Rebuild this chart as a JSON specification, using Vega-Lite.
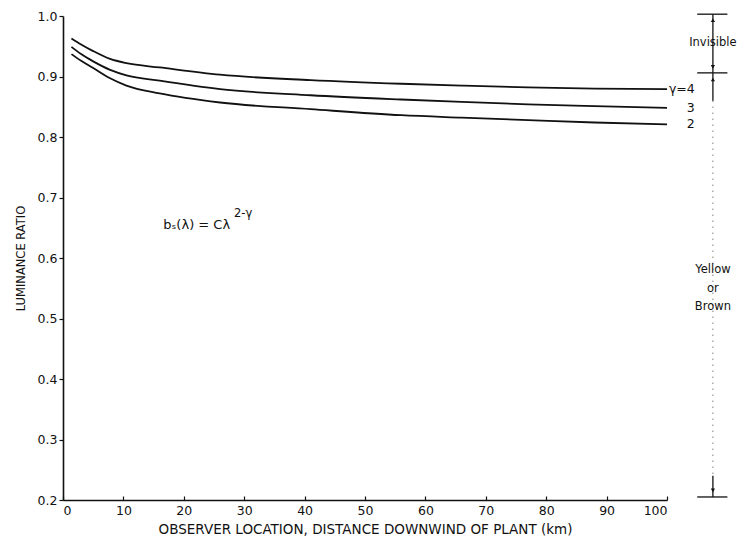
{
  "$schema": "https://vega.github.io/schema/vega-lite/v6.json",
  "width": 604,
  "height": 484,
  "autosize": "none",
  "padding": {"left": 63, "top": 16, "right": 73, "bottom": 40},
  "background": "white",
  "config": {
    "view": {"stroke": null},
    "axis": {
      "grid": false,
      "domainColor": "#111",
      "domainWidth": 1.6,
      "tickColor": "#111",
      "tickWidth": 1.2,
      "labelColor": "#111",
      "labelFont": "DejaVu Sans",
      "labelFontSize": 12.5,
      "titleFont": "DejaVu Sans",
      "titleFontSize": 11.5,
      "titleFontWeight": "normal",
      "titleColor": "#111"
    },
    "text": {"font": "DejaVu Sans", "color": "#111"}
  },
  "datasets": {
    "curves": [
      {"x": 1.4, "y": 0.963, "g": 4}, {"x": 3, "y": 0.953, "g": 4}, {"x": 5, "y": 0.942, "g": 4}, {"x": 7.8, "y": 0.929, "g": 4}, {"x": 10.5, "y": 0.922, "g": 4}, {"x": 16, "y": 0.915, "g": 4}, {"x": 26, "y": 0.903, "g": 4}, {"x": 41, "y": 0.894, "g": 4}, {"x": 56, "y": 0.888, "g": 4}, {"x": 66, "y": 0.885, "g": 4}, {"x": 77, "y": 0.882, "g": 4}, {"x": 88, "y": 0.880, "g": 4}, {"x": 100, "y": 0.879, "g": 4},
      {"x": 1.4, "y": 0.949, "g": 3}, {"x": 3, "y": 0.937, "g": 3}, {"x": 5, "y": 0.925, "g": 3}, {"x": 7.8, "y": 0.911, "g": 3}, {"x": 10.5, "y": 0.902, "g": 3}, {"x": 16, "y": 0.893, "g": 3}, {"x": 26, "y": 0.879, "g": 3}, {"x": 41, "y": 0.869, "g": 3}, {"x": 56, "y": 0.862, "g": 3}, {"x": 66, "y": 0.858, "g": 3}, {"x": 77, "y": 0.854, "g": 3}, {"x": 88, "y": 0.851, "g": 3}, {"x": 100, "y": 0.848, "g": 3},
      {"x": 1.4, "y": 0.937, "g": 2}, {"x": 3, "y": 0.926, "g": 2}, {"x": 5, "y": 0.914, "g": 2}, {"x": 7.8, "y": 0.897, "g": 2}, {"x": 10.5, "y": 0.885, "g": 2}, {"x": 16, "y": 0.872, "g": 2}, {"x": 26, "y": 0.857, "g": 2}, {"x": 41, "y": 0.846, "g": 2}, {"x": 56, "y": 0.836, "g": 2}, {"x": 66, "y": 0.832, "g": 2}, {"x": 77, "y": 0.828, "g": 2}, {"x": 88, "y": 0.824, "g": 2}, {"x": 100, "y": 0.821, "g": 2}
    ],
    "solidRules": [
      {"x": 107.6, "x2": 107.6, "y": 1.003, "y2": 0.906},
      {"x": 105, "x2": 110, "y": 1.003, "y2": 1.003},
      {"x": 105, "x2": 110, "y": 0.906, "y2": 0.906},
      {"x": 105, "x2": 110, "y": 0.205, "y2": 0.205},
      {"x": 107.6, "x2": 107.6, "y": 0.906, "y2": 0.86},
      {"x": 107.6, "x2": 107.6, "y": 0.24, "y2": 0.205}
    ],
    "dashedRules": [
      {"x": 107.6, "x2": 107.6, "y": 0.86, "y2": 0.24}
    ],
    "arrows": [
      {"x": 107.6, "y": 0.993, "shape": "triangle-up"},
      {"x": 107.6, "y": 0.916, "shape": "triangle-down"},
      {"x": 107.6, "y": 0.895, "shape": "triangle-up"},
      {"x": 107.6, "y": 0.216, "shape": "triangle-down"}
    ],
    "rightLabels": [
      {"x": 104.6, "y": 0.879, "t": "γ=4"},
      {"x": 104.6, "y": 0.848, "t": "3"},
      {"x": 104.6, "y": 0.821, "t": "2"}
    ],
    "centerLabels": [
      {"x": 107.6, "y": 0.955, "t": "Invisible"},
      {"x": 107.6, "y": 0.580, "t": "Yellow"},
      {"x": 107.6, "y": 0.549, "t": "or"},
      {"x": 107.6, "y": 0.519, "t": "Brown"}
    ],
    "formula": [
      {"x": 16.6, "y": 0.655, "t": "bₛ(λ) = Cλ"}
    ],
    "formulaSup": [
      {"x": 28.3, "y": 0.673, "t": "2-γ"}
    ]
  },
  "layer": [
    {
      "data": {"name": "curves"},
      "mark": {"type": "line", "color": "#111", "strokeWidth": 1.8, "interpolate": "monotone"},
      "encoding": {
        "x": {"field": "x", "type": "quantitative", "scale": {"domain": [0, 100], "nice": false, "zero": false},
              "axis": {"values": [0, 10, 20, 30, 40, 50, 60, 70, 80, 90, 100], "tickSize": -4, "labelPadding": 8,
                       "title": "OBSERVER LOCATION, DISTANCE DOWNWIND OF PLANT (km)", "titlePadding": 6, "titleFontSize": 13.5}},
        "y": {"field": "y", "type": "quantitative", "scale": {"domain": [0.2, 1.0], "nice": false, "zero": false},
              "axis": {"values": [0.2, 0.3, 0.4, 0.5, 0.6, 0.7, 0.8, 0.9, 1.0], "format": ".1f", "tickSize": 4, "labelPadding": 2,
                       "title": "LUMINANCE RATIO", "titlePadding": 11}},
        "detail": {"field": "g", "type": "nominal"}
      }
    },
    {
      "data": {"name": "solidRules"},
      "mark": {"type": "rule", "color": "#111", "strokeWidth": 1.3},
      "encoding": {
        "x": {"field": "x", "type": "quantitative", "scale": {"domain": [0, 100], "nice": false, "zero": false}},
        "x2": {"field": "x2"},
        "y": {"field": "y", "type": "quantitative", "scale": {"domain": [0.2, 1.0], "nice": false, "zero": false}},
        "y2": {"field": "y2"}
      }
    },
    {
      "data": {"name": "dashedRules"},
      "mark": {"type": "rule", "color": "#444", "strokeWidth": 1, "strokeDash": [1, 5]},
      "encoding": {
        "x": {"field": "x", "type": "quantitative", "scale": {"domain": [0, 100], "nice": false, "zero": false}},
        "x2": {"field": "x2"},
        "y": {"field": "y", "type": "quantitative", "scale": {"domain": [0.2, 1.0], "nice": false, "zero": false}},
        "y2": {"field": "y2"}
      }
    },
    {
      "data": {"name": "arrows"},
      "mark": {"type": "point", "filled": true, "color": "#111", "size": 18, "opacity": 1},
      "encoding": {
        "x": {"field": "x", "type": "quantitative", "scale": {"domain": [0, 100], "nice": false, "zero": false}},
        "y": {"field": "y", "type": "quantitative", "scale": {"domain": [0.2, 1.0], "nice": false, "zero": false}},
        "shape": {"field": "shape", "type": "nominal", "scale": null}
      }
    },
    {
      "data": {"name": "rightLabels"},
      "mark": {"type": "text", "align": "right", "baseline": "middle", "fontSize": 12.5},
      "encoding": {
        "x": {"field": "x", "type": "quantitative", "scale": {"domain": [0, 100], "nice": false, "zero": false}},
        "y": {"field": "y", "type": "quantitative", "scale": {"domain": [0.2, 1.0], "nice": false, "zero": false}},
        "text": {"field": "t"}
      }
    },
    {
      "data": {"name": "centerLabels"},
      "mark": {"type": "text", "align": "center", "baseline": "middle", "fontSize": 11.5},
      "encoding": {
        "x": {"field": "x", "type": "quantitative", "scale": {"domain": [0, 100], "nice": false, "zero": false}},
        "y": {"field": "y", "type": "quantitative", "scale": {"domain": [0.2, 1.0], "nice": false, "zero": false}},
        "text": {"field": "t"}
      }
    },
    {
      "data": {"name": "formula"},
      "mark": {"type": "text", "align": "left", "baseline": "middle", "fontSize": 13},
      "encoding": {
        "x": {"field": "x", "type": "quantitative", "scale": {"domain": [0, 100], "nice": false, "zero": false}},
        "y": {"field": "y", "type": "quantitative", "scale": {"domain": [0.2, 1.0], "nice": false, "zero": false}},
        "text": {"field": "t"}
      }
    },
    {
      "data": {"name": "formulaSup"},
      "mark": {"type": "text", "align": "left", "baseline": "middle", "fontSize": 11.5},
      "encoding": {
        "x": {"field": "x", "type": "quantitative", "scale": {"domain": [0, 100], "nice": false, "zero": false}},
        "y": {"field": "y", "type": "quantitative", "scale": {"domain": [0.2, 1.0], "nice": false, "zero": false}},
        "text": {"field": "t"}
      }
    }
  ]
}
